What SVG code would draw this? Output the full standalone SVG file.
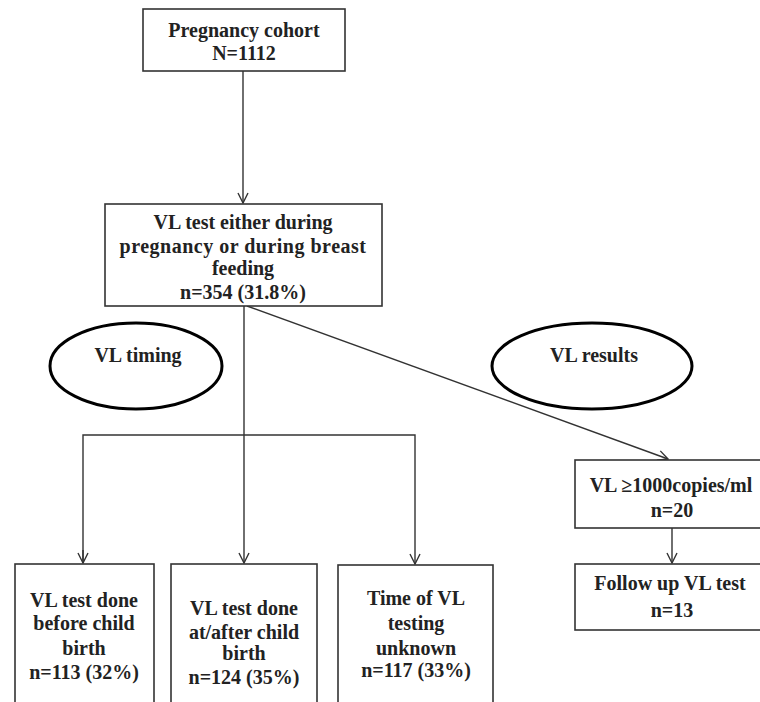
<svg xmlns="http://www.w3.org/2000/svg" width="760" height="702" viewBox="0 0 760 702">
<defs>
<style>
.box{fill:#fff;stroke:#333;stroke-width:1.6}
.ell{fill:#fff;stroke:#000;stroke-width:3}
.t{font-family:"Liberation Serif","Times New Roman",serif;font-weight:bold;font-size:20px;fill:#222;text-anchor:middle}
.c{fill:none;stroke:#333;stroke-width:1.4}
</style>
<marker id="ah" viewBox="0 0 12 12" refX="11" refY="6" markerWidth="12" markerHeight="12" markerUnits="userSpaceOnUse" orient="auto">
<polyline points="1,1 11,6 1,11" fill="none" stroke="#333" stroke-width="1.4"/>
</marker>
</defs>
<rect width="760" height="702" fill="#fff"/>
<g id="connectors">
<line class="c" x1="243" y1="71" x2="243" y2="203" marker-end="url(#ah)"/>
<line class="c" x1="244" y1="306" x2="244" y2="563" marker-end="url(#ah)"/>
<polyline class="c" points="83,563 83,435 415,435 415,564" marker-end="url(#ah)"/>
<line class="c" x1="83" y1="550" x2="83" y2="563" marker-end="url(#ah)"/>
<line class="c" x1="247" y1="306" x2="668" y2="459" marker-end="url(#ah)"/>
<line class="c" x1="672" y1="528" x2="672" y2="563" marker-end="url(#ah)"/>
</g>
<g id="n1"><rect class="box" x="143" y="9" width="202" height="62"/>
<text class="t" x="244" y="37">Pregnancy cohort</text><text class="t" x="244" y="60">N=1112</text></g>
<g id="n2"><rect class="box" x="105" y="204" width="277" height="102"/>
<text class="t" x="243" y="229">VL test either during</text>
<text class="t" x="243" y="253" letter-spacing="0.5">pregnancy or during breast</text>
<text class="t" x="243" y="275">feeding</text>
<text class="t" x="243" y="299">n=354 (31.8%)</text></g>
<g id="e1"><ellipse class="ell" cx="136" cy="366" rx="86" ry="43"/><text class="t" x="138" y="362">VL timing</text></g>
<g id="e2"><ellipse class="ell" cx="592" cy="366" rx="100" ry="43"/><text class="t" x="594" y="362">VL results</text></g>
<g id="n3"><rect class="box" x="15" y="564" width="139" height="150"/>
<text class="t" x="84" y="607">VL test done</text>
<text class="t" x="84" y="630">before child</text>
<text class="t" x="84" y="655">birth</text>
<text class="t" x="84" y="679">n=113 (32%)</text></g>
<g id="n4"><rect class="box" x="171" y="564" width="146" height="150"/>
<text class="t" x="244" y="615">VL test done</text>
<text class="t" x="244" y="639">at/after child</text>
<text class="t" x="244" y="660">birth</text>
<text class="t" x="244" y="684">n=124 (35%)</text></g>
<g id="n5"><rect class="box" x="338" y="565" width="155" height="150"/>
<text class="t" x="416" y="605">Time of VL</text>
<text class="t" x="416" y="630">testing</text>
<text class="t" x="416" y="655">unknown</text>
<text class="t" x="416" y="677">n=117 (33%)</text></g>
<g id="n6"><rect class="box" x="575" y="460" width="195" height="68"/>
<text class="t" x="671" y="492">VL ≥1000copies/ml</text>
<text class="t" x="672" y="517">n=20</text></g>
<g id="n7"><rect class="box" x="575" y="564" width="195" height="66"/>
<text class="t" x="670" y="590">Follow up VL test</text>
<text class="t" x="672" y="617">n=13</text></g>
</svg>
